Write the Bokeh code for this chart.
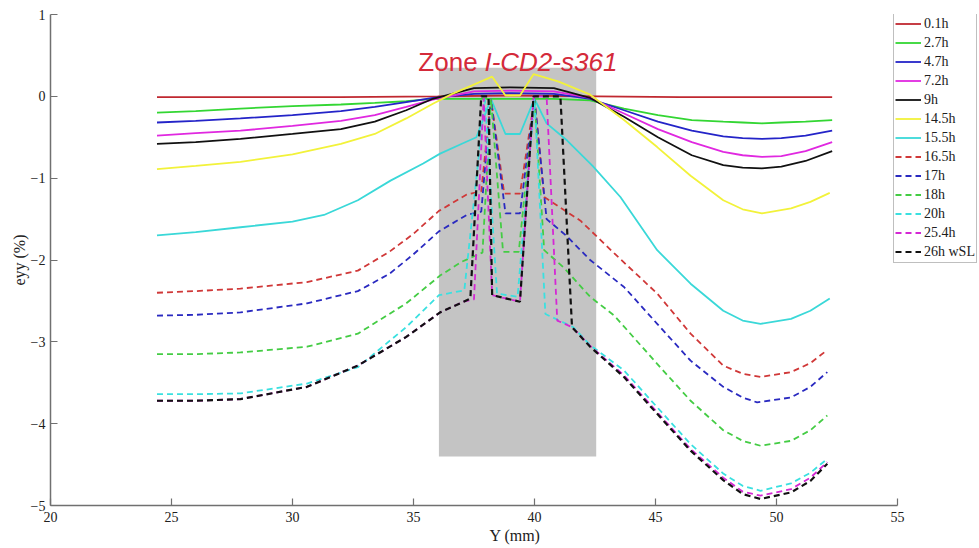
from bokeh.plotting import figure
from bokeh.models import Range1d, Legend, LegendItem, Label, FixedTicker
from bokeh.embed import file_html
from bokeh.resources import INLINE

# ---------------- data ----------------
x_ticks = [20, 25, 30, 35, 40, 45, 50, 55]
y_ticks = [-5, -4, -3, -2, -1, 0, 1]
x_axis_bounds = (20, 55)

zone_x = [36.05, 42.55]
zone_y = [-4.4, 0.35]
zone_word = "Zone "
zone_name = "I-CD2-s361"

labels = ["0.1h", "2.7h", "4.7h", "7.2h", "9h", "14.5h", "15.5h",
          "16.5h", "17h", "18h", "20h", "25.4h", "26h wSL"]

x_01 = [24.4, 28.0, 32.0, 36.0, 39.0, 42.6, 46.0, 49.5, 52.3]
y_01 = [-0.01, -0.01, -0.01, 0.0, 0.01, 0.0, -0.01, -0.01, -0.01]

x_solid = [24.4, 26.0, 27.85, 30.0, 32.0, 33.4, 34.7, 35.8, 37.5, 39.0, 40.8,
           42.3, 43.7, 45.1, 46.5, 47.8, 48.6, 49.4, 50.2, 51.2, 52.3]
y_27 = [-0.20, -0.18, -0.15, -0.12, -0.10, -0.08, -0.06, -0.03, -0.03, -0.03, -0.03,
        -0.05, -0.15, -0.23, -0.29, -0.31, -0.32, -0.33, -0.32, -0.31, -0.29]
y_47 = [-0.32, -0.30, -0.27, -0.23, -0.18, -0.13, -0.07, -0.02, 0.03, 0.04, 0.03,
        -0.03, -0.17, -0.31, -0.42, -0.49, -0.51, -0.52, -0.51, -0.48, -0.42]
y_72 = [-0.48, -0.45, -0.42, -0.36, -0.30, -0.23, -0.13, -0.04, 0.06, 0.07, 0.06,
        -0.02, -0.21, -0.40, -0.56, -0.68, -0.72, -0.74, -0.73, -0.67, -0.56]
y_9 = [-0.58, -0.56, -0.52, -0.46, -0.40, -0.31, -0.17, -0.03, 0.10, 0.11, 0.10,
       -0.02, -0.25, -0.50, -0.72, -0.84, -0.87, -0.88, -0.86, -0.79, -0.67]

x_145 = [24.4, 26.0, 27.85, 30.0, 32.0, 33.4, 34.7, 35.8, 36.6, 37.4, 38.25, 38.8, 39.4,
         39.96, 41.0, 42.3, 43.7, 45.07, 46.45, 47.8, 48.6, 49.4, 50.6, 51.4, 52.2]
y_145 = [-0.89, -0.85, -0.80, -0.71, -0.58, -0.46, -0.27, -0.09, 0.03, 0.13, 0.24, 0.01, 0.01,
         0.27, 0.18, 0.02, -0.29, -0.62, -0.97, -1.27, -1.38, -1.43, -1.37, -1.29, -1.18]

x_155 = [24.4, 26.0, 27.85, 30.0, 31.3, 32.7, 34.05, 35.4, 36.1, 37.0, 37.6, 38.2, 38.8, 39.4,
         40.0, 40.5, 41.35, 42.4, 43.55, 45.07, 46.45, 47.8, 48.6, 49.34, 50.6, 51.4, 52.2]
y_155 = [-1.70, -1.66, -1.60, -1.53, -1.45, -1.27, -1.03, -0.82, -0.70, -0.58, -0.50, -0.03, -0.46, -0.46,
         -0.03, -0.33, -0.54, -0.85, -1.23, -1.88, -2.29, -2.62, -2.74, -2.78, -2.72, -2.62, -2.47]

x_165 = [24.4, 26.0, 27.85, 30.6, 32.7, 34.0, 35.0, 36.05, 37.2, 37.8, 38.2, 38.75, 39.4,
         40.0, 40.4, 41.9, 43.3, 45.07, 46.45, 47.8, 48.6, 49.34, 50.6, 51.4, 52.1]
y_165 = [-2.40, -2.38, -2.35, -2.27, -2.13, -1.90, -1.68, -1.40, -1.20, -1.16, -0.03, -1.19, -1.19,
         -0.03, -1.23, -1.52, -1.92, -2.41, -2.90, -3.29, -3.39, -3.43, -3.37, -3.26, -3.10]

x_17 = [24.4, 26.0, 27.85, 30.6, 32.7, 34.0, 35.0, 36.05, 37.2, 37.8, 38.2, 38.8, 39.4,
        40.0, 40.5, 41.3, 42.3, 43.7, 45.07, 46.45, 47.8, 48.6, 49.2, 50.6, 51.4, 52.1]
y_17 = [-2.68, -2.67, -2.64, -2.53, -2.38, -2.17, -1.93, -1.65, -1.45, -1.41, -0.03, -1.43, -1.43,
        -0.03, -1.50, -1.70, -2.00, -2.33, -2.78, -3.23, -3.55, -3.68, -3.74, -3.68, -3.55, -3.37]

x_18 = [24.4, 26.0, 27.85, 30.6, 32.7, 34.7, 36.1, 37.0, 37.85, 38.2, 38.7, 39.35, 40.0,
        40.4, 41.2, 42.3, 43.3, 45.07, 46.45, 47.8, 48.6, 49.34, 50.6, 51.4, 52.1]
y_18 = [-3.15, -3.15, -3.13, -3.06, -2.90, -2.53, -2.19, -2.02, -1.91, -0.03, -1.90, -1.90, -0.03,
        -1.88, -2.09, -2.45, -2.68, -3.27, -3.72, -4.08, -4.21, -4.27, -4.21, -4.08, -3.90]

x_20 = [24.4, 26.0, 27.85, 30.6, 32.7, 34.7, 36.05, 37.1, 37.95, 38.45, 39.3, 40.0, 40.45,
        41.6, 42.3, 43.7, 45.07, 46.45, 47.8, 48.6, 49.34, 50.6, 51.4, 52.1]
y_20 = [-3.64, -3.64, -3.63, -3.51, -3.31, -2.82, -2.43, -2.37, -0.03, -2.41, -2.45, -0.03, -2.66,
        -2.82, -3.04, -3.35, -3.80, -4.25, -4.61, -4.76, -4.82, -4.73, -4.60, -4.43]

x_254 = [24.4, 26.0, 27.85, 30.6, 32.7, 34.7, 36.1, 37.07, 37.5, 37.9, 38.25, 39.4, 39.96,
         40.5, 40.94, 41.55, 42.3, 43.7, 45.07, 46.45, 47.8, 48.6, 49.34, 50.6, 51.4, 52.1]
y_254 = [-3.72, -3.72, -3.70, -3.55, -3.29, -2.94, -2.64, -2.51, -2.48, -0.02, -2.43, -2.51, 0.0,
         0.0, -2.74, -2.82, -3.05, -3.41, -3.86, -4.31, -4.66, -4.83, -4.88, -4.80, -4.66, -4.47]

x_26 = [24.4, 26.0, 27.85, 30.6, 32.7, 34.7, 36.1, 37.07, 37.35, 37.8, 38.1, 38.25, 39.4,
        39.96, 41.07, 41.55, 42.3, 43.7, 45.07, 46.45, 47.8, 48.6, 49.34, 50.6, 51.4, 52.1]
y_26 = [-3.72, -3.72, -3.70, -3.55, -3.29, -2.94, -2.64, -2.51, -2.47, 0.0, 0.0, -2.43, -2.51,
        0.0, 0.0, -2.82, -3.06, -3.43, -3.88, -4.33, -4.69, -4.86, -4.92, -4.84, -4.70, -4.49]

series_x = [x_01, x_solid, x_solid, x_solid, x_solid, x_145, x_155,
            x_165, x_17, x_18, x_20, x_254, x_26]
series_y = [y_01, y_27, y_47, y_72, y_9, y_145, y_155,
            y_165, y_17, y_18, y_20, y_254, y_26]

# ---------------- styles ----------------
colors = ["#c02830", "#33d633", "#2424c8", "#e028e0", "#111111", "#f2f23a", "#3ad8d8",
          "#d03838", "#2a2ac0", "#44cc44", "#3ae0e0", "#d428d4", "#111111"]
dashes = ["solid"] * 7 + ["6 4"] * 6
widths = [1.8] * 7 + [1.8] * 5 + [2.2]

SERIF = "Liberation Serif"

W, H = 979, 548
LEFT, TOP, BOTTOM = 50, 14, 43
PX_PER_UNIT = (897 - 50) / 35.0
x_end = 20 + (W - LEFT) / PX_PER_UNIT   # frame runs to the right edge so the legend fits

p = figure(width=W, height=H, output_backend="svg", toolbar_location=None,
           x_range=Range1d(20, x_end), y_range=Range1d(-5, 1),
           min_border_left=LEFT, min_border_right=0, min_border_top=TOP,
           min_border_bottom=BOTTOM)
p.outline_line_color = None
p.background_fill_color = "white"
p.border_fill_color = "white"
p.grid.visible = False

for ax in (p.xaxis[0], p.yaxis[0]):
    ax.axis_line_color = "#707070"
    ax.axis_line_width = 1.5
    ax.major_tick_line_color = "#707070"
    ax.major_tick_line_width = 1.2
    ax.major_tick_in = 7
    ax.major_tick_out = 0
    ax.minor_tick_line_color = None
    ax.major_label_text_font = SERIF
    ax.major_label_text_font_size = "14px"
    ax.major_label_text_color = "#202020"
    ax.axis_label_text_font = SERIF
    ax.axis_label_text_font_size = "16px"
    ax.axis_label_text_font_style = "normal"
    ax.axis_label_text_color = "#202020"

p.xaxis.bounds = x_axis_bounds
p.xaxis.ticker = FixedTicker(ticks=x_ticks)
p.yaxis.ticker = FixedTicker(ticks=y_ticks)
p.xaxis.axis_label = "Y (mm)"
p.yaxis.axis_label = "eyy (%)"
p.xaxis.major_label_standoff = 6
p.xaxis.axis_label_standoff = 2
p.yaxis.major_label_standoff = 5
p.yaxis.axis_label_standoff = 0

# grey zone
p.quad(left=[zone_x[0]], right=[zone_x[1]], bottom=[zone_y[0]], top=[zone_y[1]],
       fill_color="#c4c4c4", line_color=None)

items = []
for lab, xs, ys, c, d, w in zip(labels, series_x, series_y, colors, dashes, widths):
    r = p.line(xs, ys, line_color=c, line_width=w, line_dash=d)
    items.append(LegendItem(label=lab, renderers=[r]))

legend = Legend(items=items, location=(843, 242),
                label_text_font=SERIF, label_text_font_size="14px",
                label_text_color="#202020",
                glyph_width=26, glyph_height=19, label_height=19, label_standoff=3,
                spacing=0, padding=1, margin=0,
                border_line_color="#808080", border_line_width=1.5,
                background_fill_color="white", background_fill_alpha=1.0)
p.add_layout(legend)

title_y = zone_y[1] + 0.07
p.add_layout(Label(x=35.2, y=title_y, text=zone_word, text_font="Liberation Sans",
                   text_font_size="26px", text_color="#d42a3a", text_baseline="alphabetic"))
p.add_layout(Label(x=37.93, y=title_y, text=zone_name, text_font="Liberation Sans",
                   text_font_size="26px", text_font_style="italic", text_color="#d42a3a",
                   text_baseline="alphabetic"))

open("out.html", "w").write(file_html(p, INLINE))
